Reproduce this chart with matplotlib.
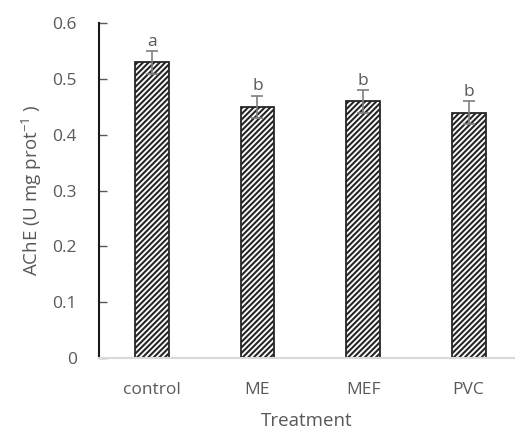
import matplotlib
matplotlib.use("Agg")
import matplotlib.pyplot as plt
import numpy as np

# ── Data ─────────────────────────────────────────────────────────────────────
treatments = ["control", "ME", "MEF", "PVC"]
ache_mean = [0.53, 0.45, 0.46, 0.44]
ache_err = [0.02, 0.02, 0.02, 0.02]
letters = ["a", "b", "b", "b"]

GREY = "#595959"

plt.rcParams["font.family"] = ["Open Sans", "DejaVu Sans"]
plt.rcParams["mathtext.fontset"] = "custom"
plt.rcParams["mathtext.rm"] = "Open Sans"
plt.rcParams["mathtext.it"] = "Open Sans"
plt.rcParams["hatch.linewidth"] = 1.5
plt.rcParams["hatch.color"] = "#262626"

fig = plt.figure(figsize=(5.22, 4.29), dpi=100)
ax = fig.add_axes([0.1897, 0.1655, 0.795, 0.780])

x = np.arange(len(treatments))
ax.bar(x, ache_mean, width=0.32, color="white", edgecolor="#262626",
       linewidth=1.3, hatch="//////", zorder=2)
ax.errorbar(x, ache_mean, yerr=ache_err, fmt="none", ecolor="#7f7f7f",
            elinewidth=1.2, capsize=4.5, capthick=1.2, zorder=3)

for xi, m, e, lab in zip(x, ache_mean, ache_err, letters):
    ax.annotate(lab, (xi, m + e), xytext=(0, 1), textcoords="offset points",
                ha="center", va="bottom", fontsize=12.5, color=GREY)

# ── Axes styling ─────────────────────────────────────────────────────────────
ax.set_xlim(-0.5, 3.43)
ax.set_ylim(0, 0.6)
ax.set_yticks(np.arange(0, 0.61, 0.1))
ax.set_yticklabels(["0", "0.1", "0.2", "0.3", "0.4", "0.5", "0.6"])
ax.set_xticks(x)
ax.set_xticklabels(treatments)

ax.tick_params(axis="y", direction="in", length=6, width=1, color=GREY,
               labelsize=12.5, labelcolor=GREY, pad=16)
ax.tick_params(axis="x", length=0, labelsize=12.5, labelcolor=GREY, pad=17)

for side in ["top", "right"]:
    ax.spines[side].set_visible(False)
ax.spines["left"].set_color("#1a1a1a")
ax.spines["left"].set_linewidth(1.5)
ax.spines["bottom"].set_color("#d9d9d9")
ax.spines["bottom"].set_linewidth(1.5)

ax.set_ylabel(r"AChE (U mg prot$^{\mathrm{-1}}$ )", fontsize=13.5, color=GREY,
              labelpad=6)
ax.set_xlabel("Treatment", fontsize=13.5, color=GREY, labelpad=10)

fig.savefig("out.png", dpi=100)
